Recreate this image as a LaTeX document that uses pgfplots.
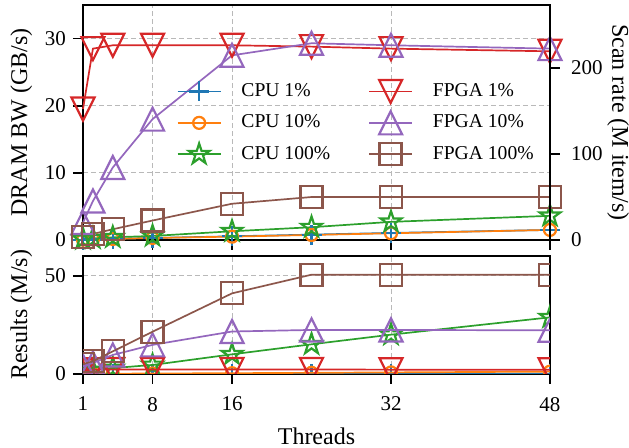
\documentclass[border=0pt]{standalone}
\usepackage{fontspec}
\setmainfont{Liberation Serif}
\usepackage{pgfplots}
\usepackage{pgfplotstable}
\pgfplotsset{compat=1.18}

\definecolor{c0}{HTML}{1F77B4}
\definecolor{c1}{HTML}{FF7F0E}
\definecolor{c2}{HTML}{2CA02C}
\definecolor{c3}{HTML}{D62728}
\definecolor{c4}{HTML}{9467BD}
\definecolor{c5}{HTML}{8C564B}

\pgfdeclareplotmark{mtriup}{%
  \pgfpathmoveto{\pgfqpoint{0pt}{\pgfplotmarksize}}%
  \pgfpathlineto{\pgfqpoint{-\pgfplotmarksize}{-\pgfplotmarksize}}%
  \pgfpathlineto{\pgfqpoint{\pgfplotmarksize}{-\pgfplotmarksize}}%
  \pgfpathclose\pgfusepathqstroke}
\pgfdeclareplotmark{mtridown}{%
  \pgfpathmoveto{\pgfqpoint{0pt}{-\pgfplotmarksize}}%
  \pgfpathlineto{\pgfqpoint{-\pgfplotmarksize}{\pgfplotmarksize}}%
  \pgfpathlineto{\pgfqpoint{\pgfplotmarksize}{\pgfplotmarksize}}%
  \pgfpathclose\pgfusepathqstroke}
\pgfdeclareplotmark{mstar}{%
  \pgfpathmoveto{\pgfqpointpolar{90}{\pgfplotmarksize}}%
  \pgfpathlineto{\pgfqpointpolar{126}{0.382\pgfplotmarksize}}%
  \pgfpathlineto{\pgfqpointpolar{162}{\pgfplotmarksize}}%
  \pgfpathlineto{\pgfqpointpolar{198}{0.382\pgfplotmarksize}}%
  \pgfpathlineto{\pgfqpointpolar{234}{\pgfplotmarksize}}%
  \pgfpathlineto{\pgfqpointpolar{270}{0.382\pgfplotmarksize}}%
  \pgfpathlineto{\pgfqpointpolar{306}{\pgfplotmarksize}}%
  \pgfpathlineto{\pgfqpointpolar{342}{0.382\pgfplotmarksize}}%
  \pgfpathlineto{\pgfqpointpolar{18}{\pgfplotmarksize}}%
  \pgfpathlineto{\pgfqpointpolar{54}{0.382\pgfplotmarksize}}%
  \pgfpathclose\pgfusepathqstroke}

\pgfplotstableread{
x   cpua  cpub  cpuc  fpgaa fpgab fpgac
1   0.05  0.05  0.15  19.5  2.6   0.5
2   0.08  0.08  0.25  28.5  5.8   0.9
4   0.15  0.15  0.40  29.0  10.8  1.6
8   0.30  0.30  0.60  29.0  18.0  2.9
16  0.55  0.50  1.30  29.0  27.5  5.4
24  0.80  0.75  1.90  28.8  29.3  6.4
32  1.05  1.00  2.70  28.5  29.0  6.4
48  1.50  1.50  3.60  28.1  28.5  6.4
}\bwtable

\pgfplotstableread{
x   cpua  cpub  cpuc  fpgaa fpgab fpgac
1   0.01  0.05  1.2   1.5   4.0   5.0
2   0.01  0.08  2.0   2.2   5.6   6.5
4   0.02  0.15  3.0   2.3   9.7   11.5
8   0.03  0.25  4.6   2.3   14.8  21.5
16  0.05  0.40  10.0  2.3   21.6  41.0
24  0.07  0.60  15.1  2.3   22.4  50.5
32  0.09  0.80  20.0  2.2   22.4  50.5
48  0.12  1.20  28.8  2.2   22.2  50.5
}\restable

\pgfplotsset{
  base/.style={
    scale only axis, width=233.5pt,
    xmin=1, xmax=48, xtick={1,8,16,32,48},
    tick align=outside, major tick length=5pt,
    xtick pos=bottom,
    axis line style={line width=1pt},
    every tick/.style={black, line width=0.9pt},
    /pgf/number format/assume math mode=true,
    tick label style={font=\fontsize{10.5}{12}\selectfont},
    xticklabel style={yshift=-3pt},
    label style={font=\fontsize{12}{14}\selectfont},
    grid=major, grid style={dash pattern=on 2.5pt off 1.5pt, gray!55, line width=0.45pt},
    legend image code/.code={\draw[mark repeat=2,mark phase=2] plot coordinates {(0pt,0pt) (10.75pt,0pt) (21.5pt,0pt)};},
  },
  ser/.style={line width=0.85pt, every mark/.append style={line width=1.1pt, solid, fill=none}},
  cpua/.style={ser, color=c0, mark=+, mark size=5pt},
  cpub/.style={ser, color=c1, mark=o, mark size=3pt},
  cpuc/.style={ser, color=c2, mark=mstar, mark size=5.4pt},
  fpgaa/.style={ser, color=c3, mark=mtridown, mark size=5.75pt},
  fpgab/.style={ser, color=c4, mark=mtriup, mark size=5.75pt},
  fpgac/.style={ser, color=c5, mark=square, mark size=5.5pt},
}

\begin{document}
\begin{tikzpicture}
\useasboundingbox (-41.5pt,-37pt) rectangle (273pt,187pt);
% top axis (left)
\begin{axis}[base, at={(0pt,67pt)}, height=117.5pt,
  ymin=0, ymax=35, ytick={0,10,20,30}, ytick pos=left,
  xticklabels={}, clip=false,
  ylabel={DRAM BW (GB/s)},
  ylabel style={at={(axis description cs:-0.132,0.5)}, anchor=center},
  legend columns=2,
  legend cell align=left,
  legend style={draw=none, fill=none, at={(axis description cs:0.20,0.685)}, anchor=north west,
    font=\fontsize{9.8}{11}\selectfont, inner sep=0pt, row sep=3.7pt,
    /tikz/every odd column/.append style={column sep=8pt},
    /tikz/every even column/.append style={column sep=17pt}},
]
\addplot[cpua, forget plot] table[x=x,y=cpua] {\bwtable};
\addplot[cpub, forget plot] table[x=x,y=cpub] {\bwtable};
\addplot[cpuc, forget plot] table[x=x,y=cpuc] {\bwtable};
\addplot[fpgaa, forget plot] table[x=x,y=fpgaa] {\bwtable};
\addplot[fpgab, forget plot] table[x=x,y=fpgab] {\bwtable};
\addplot[fpgac, forget plot] table[x=x,y=fpgac] {\bwtable};
\addlegendimage{cpua}\addlegendentry{CPU 1\%}
\addlegendimage{fpgaa}\addlegendentry{FPGA 1\%}
\addlegendimage{cpub}\addlegendentry{CPU 10\%}
\addlegendimage{fpgab}\addlegendentry{FPGA 10\%}
\addlegendimage{cpuc}\addlegendentry{CPU 100\%}
\addlegendimage{fpgac}\addlegendentry{FPGA 100\%}
\end{axis}
% top axis (right)
\begin{axis}[base, at={(0pt,67pt)}, height=117.5pt,
  ymin=0, ymax=273.4375, ytick={0,100,200},
  axis x line=none, axis y line*=right, grid=none,
  yticklabel style={xshift=2pt},
  ylabel={Scan rate (M item/s)},
  ylabel style={at={(axis description cs:1.146,0.5)}, anchor=center, rotate=180},
]
\end{axis}
% bottom axis
\begin{axis}[base, at={(0pt,0pt)}, height=59pt,
  ymin=0, ymax=60, ytick={0,50}, ytick pos=left,
  clip marker paths=true,
  xlabel={Threads},
  xlabel style={at={(axis description cs:0.5,-0.595)}, anchor=base},
  ylabel={Results (M/s)},
  ylabel style={at={(axis description cs:-0.132,0.5)}, anchor=center},
]
\addplot[cpua] table[x=x,y=cpua] {\restable};
\addplot[cpub] table[x=x,y=cpub] {\restable};
\addplot[cpuc] table[x=x,y=cpuc] {\restable};
\addplot[fpgaa] table[x=x,y=fpgaa] {\restable};
\addplot[fpgab] table[x=x,y=fpgab] {\restable};
\addplot[fpgac] table[x=x,y=fpgac] {\restable};
\end{axis}
\end{tikzpicture}
\end{document}
